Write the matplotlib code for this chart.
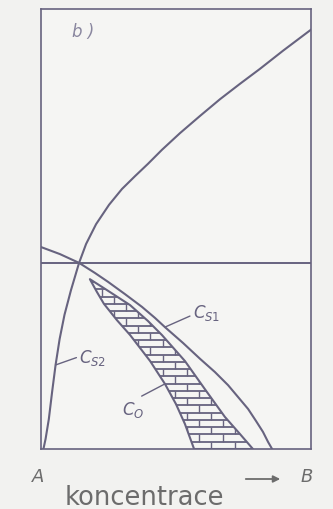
import numpy as np
import matplotlib
matplotlib.use("Agg")
import matplotlib.pyplot as plt
from matplotlib.patches import Polygon, FancyArrowPatch
from matplotlib.collections import LineCollection

plt.rcParams['mathtext.fontset'] = 'dejavusans'

# Phase diagram, concentration A -> B (x, 0..100) vs. temperature (y, 0..100)
# Upper branch through the crossing point, continuing as C_S2 down to pure A
upper_x = [0.9, 1.7, 2.9, 4.1, 5.4, 6.9, 8.7, 11.1, 14.1, 16.7, 20.4, 25.2, 30.0,
           34.8, 39.6, 44.8, 51.5, 58.9, 66.3, 73.7, 81.1, 89.6, 98.9, 100.0]
upper_y = [0.0, 2.3, 6.8, 12.9, 19.1, 25.0, 30.5, 36.1, 42.3, 46.6, 51.1, 55.5, 59.1,
           62.0, 64.8, 68.0, 71.8, 75.7, 79.5, 83.0, 86.4, 90.5, 94.8, 95.3]

# C_S1 curve
cs1_x = [0.0, 7.0, 14.1, 20.0, 24.8, 31.1, 37.4, 42.2, 45.9, 52.6, 58.9, 64.4,
         69.3, 73.0, 76.7, 79.6, 82.2, 84.1, 85.6]
cs1_y = [45.9, 44.3, 42.3, 40.0, 38.0, 35.2, 32.3, 29.8, 27.7, 24.1, 20.5, 17.5,
         14.5, 11.8, 9.1, 6.4, 3.9, 1.6, 0.0]

# C_0 band: left and right boundaries
c0_left_x = [18.1, 20.7, 23.3, 28.1, 33.0, 40.4, 45.9, 50.0, 53.3, 56.7]
c0_left_y = [38.6, 35.7, 33.0, 29.3, 25.9, 20.0, 14.8, 10.2, 5.7, 0.0]
c0_right_x = [18.1, 23.7, 33.0, 39.6, 44.8, 53.3, 60.7, 68.1, 73.7, 78.5]
c0_right_y = [38.6, 36.4, 32.7, 29.1, 25.9, 20.0, 13.6, 7.3, 3.4, 0.0]

# Isotherm through the crossing point
isotherm_y = 42.3

INK = '#67637f'
PAPER = '#f2f2f0'
GREY = '#6c6c6c'

fig = plt.figure(figsize=(3.33, 5.10), dpi=100, facecolor=PAPER)
ax = fig.add_axes([41 / 333, 60 / 510, 270 / 333, 440 / 510])
ax.set_facecolor('#f5f5f3')
ax.set_xlim(0, 100)
ax.set_ylim(0, 100)
ax.set_xticks([])
ax.set_yticks([])
for s in ax.spines.values():
    s.set_color(INK)
    s.set_linewidth(1.2)

# C_0 band with brick hatching
poly_xy = list(zip(c0_left_x, c0_left_y)) + list(zip(c0_right_x, c0_right_y))[::-1]
band = Polygon(poly_xy, closed=True, facecolor='#f5f5f3', edgecolor=INK, lw=1.5,
               joinstyle='round', zorder=2)
ax.add_patch(band)

step = 1.65
levels = np.arange(0, 40, step)
hlines = [[(0, y), (100, y)] for y in levels]
hl = LineCollection(hlines, colors=INK, linewidths=1.3, zorder=2)
ax.add_collection(hl)
hl.set_clip_path(band)

joints = []
for i, y in enumerate(levels):
    off = 4.5 if i % 2 else 0.0
    for xj in np.arange(off, 100, 9.0):
        joints.append([(xj, y), (xj, y + step)])
vl = LineCollection(joints, colors=INK, linewidths=1.0, zorder=2)
ax.add_collection(vl)
vl.set_clip_path(band)

# Curves
ax.plot(upper_x, upper_y, color=INK, lw=1.5, zorder=3, solid_joinstyle='round')
ax.plot(cs1_x, cs1_y, color=INK, lw=1.5, zorder=3, solid_joinstyle='round')
ax.axhline(isotherm_y, color=INK, lw=1.4, zorder=3)

# Labels with leader lines
lead = dict(arrowstyle='-', color=INK, lw=1.0, shrinkA=0, shrinkB=0)
ax.annotate(r'$\mathit{C_{S1}}$', xy=(cs1_x[8], cs1_y[8]), xytext=(20, 11),
            textcoords='offset points', ha='left', va='center', color=INK,
            fontsize=12, arrowprops=dict(lead, relpos=(0.0, 0.35)))
ax.annotate(r'$\mathit{C_{S2}}$', xy=(upper_x[4], upper_y[4]), xytext=(17, 6),
            textcoords='offset points', ha='left', va='center', color=INK,
            fontsize=12, arrowprops=dict(lead, relpos=(0.0, 0.5)))
ax.annotate(r'$\mathit{C_{O}}$', xy=(c0_left_x[6], c0_left_y[6]), xytext=(-31, -18),
            textcoords='offset points', ha='left', va='center', color=INK,
            fontsize=12, arrowprops=dict(lead, relpos=(0.65, 1.0)))

ax.text(0.113, 0.95, 'b )', transform=ax.transAxes, ha='left', va='center',
        fontsize=12, style='italic', color='#8a879f')

# Axis annotations below the frame
fig.text(38 / 333, 1 - 477 / 510, 'A', ha='center', va='center', fontsize=13,
         style='italic', color=GREY)
fig.text(307 / 333, 1 - 477 / 510, 'B', ha='center', va='center', fontsize=13,
         style='italic', color=GREY)
fig.patches.append(FancyArrowPatch((243 / 333, 1 - 480 / 510), (283 / 333, 1 - 480 / 510),
                                   transform=fig.transFigure, arrowstyle='-|>',
                                   mutation_scale=10, color=GREY, lw=1.3))
fig.text(144 / 333, 1 - 505 / 510, 'koncentrace', ha='center', va='baseline',
         fontsize=18.5, family='DejaVu Sans', color=GREY)

fig.savefig('out.png', dpi=100, facecolor=PAPER)
